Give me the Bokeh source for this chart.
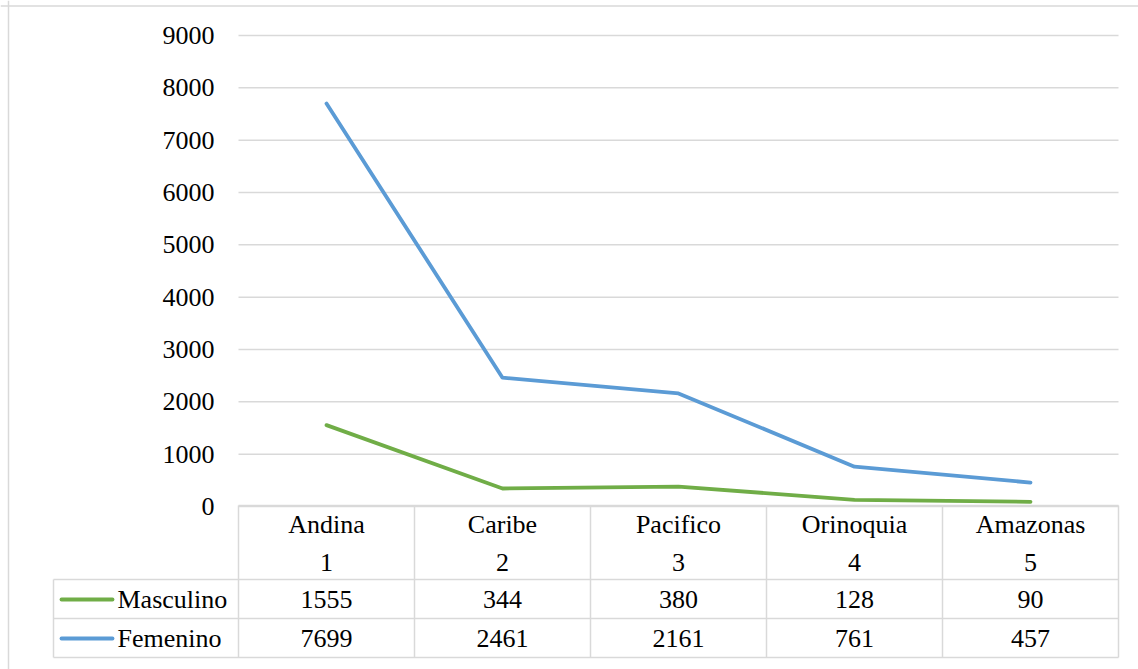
from bokeh.plotting import figure
from bokeh.models import LinearAxis, FixedTicker, Range1d, Span
from bokeh.embed import file_html
from bokeh.resources import INLINE
from bokeh.core.properties import value

# ---------------- data ----------------
regions = ["Andina", "Caribe", "Pacifico", "Orinoquia", "Amazonas"]
region_numbers = ["1", "2", "3", "4", "5"]
masculino = [1555, 344, 380, 128, 90]
femenino = [7699, 2461, 2161, 761, 457]
series_names = ["Masculino", "Femenino"]
y_ticks = [0, 1000, 2000, 3000, 4000, 5000, 6000, 7000, 8000, 9000]

# ---------------- styles ----------------
GREEN = "#70AD47"
BLUE = "#5B9BD5"
GRID = "#D9D9D9"
FONT = "'Liberation Serif', 'Times New Roman', serif"
FS = "26px"
LW = 3.8
GW = 1.5

# ---------------- layout (page pixels) ----------------
W, H = 1138, 669
ORIGIN = 0
AX_X = 238          # value axis / first table column border
COL_W = 176         # width of one category column
ZERO_Y = 506        # pixel row of value 0
TOP_Y = 35          # pixel row of value 9000
PPU = (ZERO_Y - TOP_Y) / y_ticks[-1]

def xd(X):
    return 0.5 + (X - AX_X) / COL_W

def yd(Y):
    return (ZERO_Y - Y) / PPU

n = len(regions)
xs = list(range(1, n + 1))

p = figure(width=W, height=H, output_backend="svg", toolbar_location=None,
           x_range=Range1d(xd(ORIGIN), xd(ORIGIN + W)),
           y_range=Range1d(yd(ORIGIN + H), yd(ORIGIN)),
           x_axis_location=None, y_axis_location=None,
           min_border=0, outline_line_color=None,
           background_fill_color="white", border_fill_color="white")
p.grid.visible = False

# outer chart border (left & top visible)
p.add_layout(Span(location=xd(8), dimension="height", line_color=GRID, line_width=1.5))
p.add_layout(Span(location=yd(5.5), dimension="width", line_color=GRID, line_width=1.5))

# value axis
yaxis = LinearAxis(ticker=FixedTicker(ticks=y_ticks), fixed_location=0.5,
                   axis_line_color=None, major_tick_line_color=None,
                   minor_tick_line_color=None, major_tick_out=0, major_tick_in=0,
                   major_label_text_font=FONT, major_label_text_font_size=FS,
                   major_label_text_color="black", major_label_standoff=24)
p.add_layout(yaxis, "left")

# gridlines
p.segment(x0=[0.5] * len(y_ticks), x1=[n + 0.5] * len(y_ticks),
          y0=y_ticks, y1=y_ticks, line_color=GRID, line_width=GW)

# series
p.line(xs, masculino, line_color=GREEN, line_width=LW, line_cap="round", line_join="round")
p.line(xs, femenino, line_color=BLUE, line_width=LW, line_cap="round", line_join="round")

# ---------------- data table ----------------
row_cat_top, row_cat_bot = 505, 579
row_m_bot, row_f_bot = 618, 657
legend_left = 53
tbl_bottom = yd(row_f_bot)

vx = [c + 0.5 for c in range(0, n + 1)]
p.segment(x0=vx, x1=vx, y0=[yd(row_cat_top)] * len(vx), y1=[tbl_bottom] * len(vx),
          line_color=GRID, line_width=GW)
p.segment(x0=[xd(legend_left)], x1=[xd(legend_left)], y0=[yd(row_cat_bot)], y1=[tbl_bottom],
          line_color=GRID, line_width=GW)
p.segment(x0=[0.5], x1=[n + 0.5], y0=[yd(row_cat_top)], y1=[yd(row_cat_top)],
          line_color=GRID, line_width=GW)
hy = [yd(row_cat_bot), yd(row_m_bot), yd(row_f_bot)]
p.segment(x0=[xd(legend_left)] * 3, x1=[n + 0.5] * 3, y0=hy, y1=hy,
          line_color=GRID, line_width=GW)

txt = dict(text_font=value(FONT), text_font_size=value(FS), text_color="black",
           text_baseline="middle")

p.text(x=xs, y=[yd(524)] * n, text=regions, text_align="center", **txt)
p.text(x=xs, y=[yd(562)] * n, text=region_numbers, text_align="center", **txt)
p.text(x=xs, y=[yd(599)] * n, text=[str(v) for v in masculino], text_align="center", **txt)
p.text(x=xs, y=[yd(638)] * n, text=[str(v) for v in femenino], text_align="center", **txt)

leg_y = [yd(599), yd(638)]
p.segment(x0=[xd(61)], x1=[xd(112)], y0=[leg_y[0]], y1=[leg_y[0]],
          line_color=GREEN, line_width=LW, line_cap="round")
p.segment(x0=[xd(61)], x1=[xd(112)], y0=[leg_y[1]], y1=[leg_y[1]],
          line_color=BLUE, line_width=LW, line_cap="round")
p.text(x=[xd(117)] * 2, y=leg_y, text=series_names, text_align="left", **txt)

open("out.html", "w").write(file_html(p, INLINE))
